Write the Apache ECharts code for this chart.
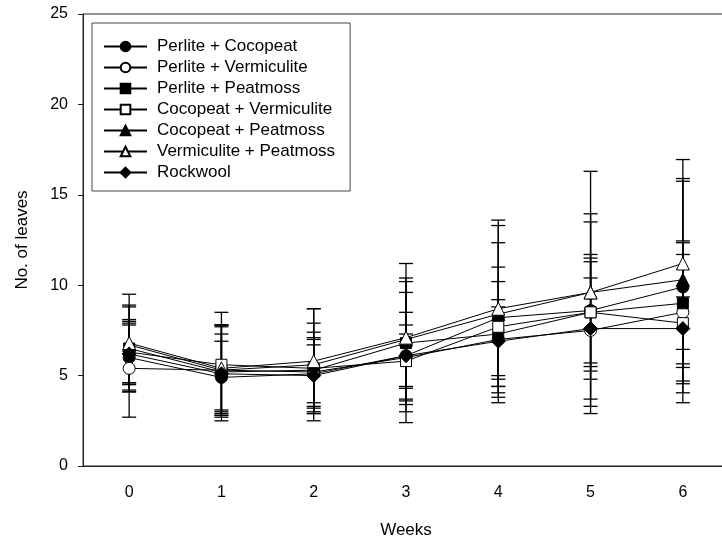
<!DOCTYPE html>
<html>
<head>
<meta charset="utf-8">
<script src="https://cdn.jsdelivr.net/npm/echarts@6/dist/echarts.min.js"></script>
<style>html,body{margin:0;padding:0;background:#fff;}#c{width:722px;height:546px;}</style>
</head>
<body>
<div id="c"></div>
<script>
const weeks = ['0', '1', '2', '3', '4', '5', '6'];
const yTicks = [0, 5, 10, 15, 20, 25];

const names = ['Perlite + Cocopeat', 'Perlite + Vermiculite', 'Perlite + Peatmoss',
  'Cocopeat + Vermiculite', 'Cocopeat + Peatmoss', 'Vermiculite + Peatmoss', 'Rockwool'];

const pcMean = [6.0, 4.9, 5.1, 6.1, 8.2, 8.6, 9.9];
const pcSd   = [1.9, 2.0, 1.6, 2.4, 4.15, 4.9, 5.85];
const pvMean = [5.4, 5.3, 5.2, 6.0, 7.0, 7.5, 8.5];
const pvSd   = [2.7, 2.5, 1.9, 3.6, 2.2, 4.2, 3.95];
const ppMean = [6.5, 5.2, 5.3, 6.8, 7.3, 8.5, 9.0];
const ppSd   = [2.3, 2.1, 2.1, 3.4, 2.9, 3.0, 3.35];
const cvMean = [6.3, 5.6, 5.4, 5.8, 7.7, 8.5, 7.9];
const cvSd   = [1.7, 2.9, 2.5, 1.5, 3.3, 2.8, 1.45];
const cpMean = [6.7, 5.3, 5.6, 7.0, 8.4, 9.6, 10.3];
const cpSd   = [2.2, 2.5, 3.1, 3.4, 4.9, 4.35, 5.6];
const vpMean = [6.8, 5.4, 5.8, 7.1, 8.7, 9.6, 11.2];
const vpSd   = [2.7, 2.4, 2.9, 4.1, 4.9, 6.7, 5.75];
const rwMean = [6.2, 5.1, 5.0, 6.1, 6.9, 7.6, 7.6];
const rwSd   = [1.6, 2.6, 2.0, 1.7, 1.9, 2.8, 4.1];

const means = [pcMean, pvMean, ppMean, cvMean, cpMean, vpMean, rwMean];
const sds = [pcSd, pvSd, ppSd, cvSd, cpSd, vpSd, rwSd];
const symbols = ['circle', 'circle', 'rect', 'rect', 'triangle', 'triangle', 'diamond'];
const filled = [true, false, true, false, true, false, true];
const sizes = [12, 12, 11, 11, 13, 13, 14];

const FONT = 'Liberation Sans, Arial, sans-serif';

const series = [];
// error bars
means.forEach((m, i) => {
  series.push({
    type: 'custom',
    name: 'err' + i,
    z: 1,
    silent: true,
    clip: false,
    data: m.map((v, k) => [k, v, sds[i][k]]),
    renderItem: function (params, api) {
      const x = api.value(0), mean = api.value(1), sd = api.value(2);
      const top = api.coord([x, mean + sd]);
      const bot = api.coord([x, mean - sd]);
      const hw = 7;
      const st = { stroke: '#000', lineWidth: 1.3 };
      return {
        type: 'group',
        children: [
          { type: 'line', shape: { x1: top[0], y1: top[1], x2: bot[0], y2: bot[1] }, style: st },
          { type: 'line', shape: { x1: top[0] - hw, y1: top[1], x2: top[0] + hw, y2: top[1] }, style: st },
          { type: 'line', shape: { x1: bot[0] - hw, y1: bot[1], x2: bot[0] + hw, y2: bot[1] }, style: st }
        ]
      };
    }
  });
});
// lines with markers
means.forEach((m, i) => {
  series.push({
    type: 'line',
    name: names[i],
    z: 3,
    data: m,
    symbol: symbols[i],
    symbolSize: sizes[i],
    showAllSymbol: true,
    lineStyle: { color: '#000', width: 1 },
    itemStyle: { color: filled[i] ? '#000' : '#fff', borderColor: '#000', borderWidth: 1, opacity: 1 },
    emphasis: { disabled: true }
  });
});

const chart = echarts.init(document.getElementById('c'), null, { renderer: 'canvas' });
chart.setOption({
  animation: false,
  backgroundColor: '#fff',
  textStyle: { fontFamily: FONT },
  grid: { left: 83, top: 14, width: 646, height: 452, show: true, borderColor: '#222', borderWidth: 1,
          containLabel: false, outerBoundsMode: 'none' },
  legend: {
    data: names,
    orient: 'vertical',
    left: 92,
    top: 23,
    itemWidth: 43,
    itemHeight: 12,
    itemGap: 4,
    padding: [15, 15, 10, 11],
    borderColor: '#444',
    borderWidth: 1,
    backgroundColor: '#fff',
    textStyle: { fontFamily: FONT, fontSize: 17, color: '#000', padding: [0, 0, 0, 5] },
    selectedMode: false
  },
  xAxis: {
    type: 'category',
    data: weeks,
    boundaryGap: true,
    name: 'Weeks',
    nameLocation: 'middle',
    nameGap: 56,
    nameTextStyle: { fontFamily: FONT, fontSize: 17, color: '#000' },
    axisLine: { lineStyle: { color: '#222', width: 1 } },
    axisTick: { alignWithLabel: true, length: 5, lineStyle: { color: '#222' } },
    axisLabel: { fontFamily: FONT, fontSize: 16, color: '#000', margin: 19 },
    splitLine: { show: false }
  },
  yAxis: {
    type: 'value',
    min: yTicks[0],
    max: yTicks[yTicks.length - 1],
    interval: 5,
    name: 'No. of leaves',
    nameLocation: 'middle',
    nameGap: 52,
    nameTextStyle: { fontFamily: FONT, fontSize: 17, color: '#000' },
    axisLine: { show: true, lineStyle: { color: '#222', width: 1 } },
    axisTick: { show: true, length: 5, lineStyle: { color: '#222' } },
    axisLabel: { fontFamily: FONT, fontSize: 16, color: '#000', margin: 15 },
    splitLine: { show: false }
  },
  series: series
});
</script>
</body>
</html>
